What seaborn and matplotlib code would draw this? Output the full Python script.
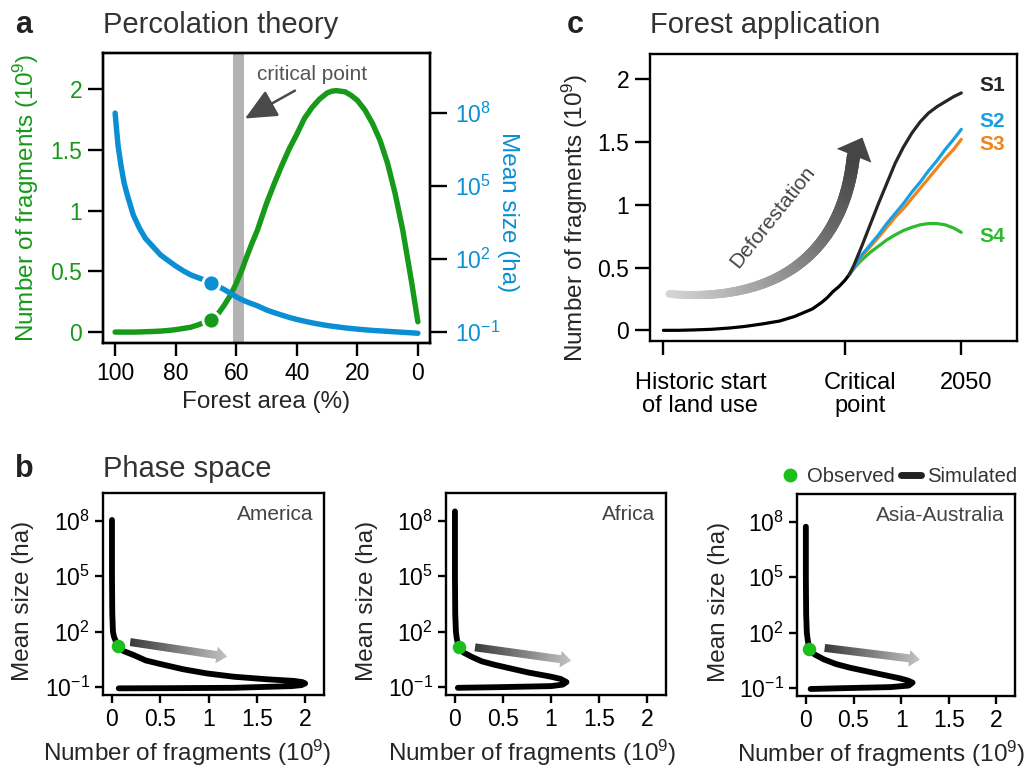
import numpy as np
import pandas as pd
import matplotlib
matplotlib.use("Agg")
import matplotlib.pyplot as plt
import seaborn as sns
from matplotlib.collections import LineCollection
from matplotlib.patches import Polygon
from matplotlib.lines import Line2D
from matplotlib import ticker, transforms, colors as mcolors

# ---------------- data: panel a (percolation theory) ----------------
forest_area = [100, 99.5, 99, 98, 97, 96, 94, 92, 90, 87.5, 85, 82.5, 80, 77.5, 75, 72.5,
               70, 66, 64, 62, 60, 58, 57, 55, 53, 50, 47.5, 45, 42.5, 40, 37.5, 35, 32.5,
               30, 28.5, 27, 25.5, 24, 22, 20, 17.5, 15, 12.5, 10, 7.5, 5, 3.5, 2, 1, 0]
fragments_a = [0, 0, 0, 0, 0, 0, 0, 0.001, 0.003, 0.005, 0.008, 0.013, 0.02, 0.03, 0.04,
               0.06, 0.085, 0.15, 0.22, 0.30, 0.40, 0.52, 0.59, 0.72, 0.84, 1.06, 1.22,
               1.37, 1.51, 1.63, 1.76, 1.85, 1.92, 1.97, 1.985, 1.99, 1.985, 1.98, 1.95,
               1.91, 1.83, 1.72, 1.58, 1.39, 1.14, 0.84, 0.62, 0.40, 0.24, 0.085]
mean_size_a = [1.0e8, 2.0e7, 4.3e6, 6.3e5, 1.3e5, 4.4e4, 6.5e3, 1.9e3, 710, 324, 148,
               87, 52, 33, 22.4, 17, 13.2, 7.6, 5.6, 4.0, 2.8, 2.1, 1.85, 1.48, 1.2, 0.81,
               0.63, 0.50, 0.40, 0.33, 0.28, 0.24, 0.21, 0.186, 0.175, 0.166, 0.157, 0.148,
               0.14, 0.132, 0.124, 0.117, 0.112, 0.107, 0.102, 0.098, 0.095, 0.093, 0.091,
               0.089]
obs_forest = [68.3]
obs_fragments = [0.10]
obs_size = [10.7]
critical_band = [57.3, 60.9]

# ---------------- data: panel b (phase space) ----------------
regions = ["America", "Africa", "Asia-Australia"]
phase_frag = {
    "America": [0.0, 0.0, 0.003, 0.01, 0.02, 0.059, 0.12, 0.224, 0.35, 0.50, 0.74, 0.98,
                1.26, 1.60, 1.88, 1.97, 2.00, 1.96, 1.86, 1.26, 0.60, 0.07],
    "Africa": [0.0, 0.0, 0.003, 0.01, 0.02, 0.04, 0.09, 0.17, 0.28, 0.42, 0.76, 1.00, 1.10,
               1.16, 1.12, 1.00, 0.42, 0.03],
    "Asia-Australia": [0.0, 0.0, 0.003, 0.01, 0.02, 0.035, 0.09, 0.19, 0.32, 0.47, 0.75,
                       0.99, 1.07, 1.12, 1.08, 0.89, 0.37, 0.05],
}
phase_size = {
    "America": [1.1e8, 1e5, 1e3, 100, 55, 17, 9, 5.5, 2.8, 1.8, 0.93, 0.56, 0.37, 0.27,
                0.22, 0.19, 0.16, 0.13, 0.115, 0.093, 0.089, 0.087],
    "Africa": [3.2e8, 1e5, 1e3, 100, 40, 14.5, 7.5, 4.5, 2.5, 1.6, 0.63, 0.37, 0.28, 0.19,
               0.138, 0.115, 0.10, 0.093],
    "Asia-Australia": [5.4e7, 1e5, 1e3, 100, 40, 13.8, 6.8, 3.6, 2.0, 1.26, 0.62, 0.34,
                       0.26, 0.20, 0.14, 0.115, 0.10, 0.091],
}
phase_obs_frag = {"America": 0.059, "Africa": 0.04, "Asia-Australia": 0.035}
phase_obs_size = {"America": 17, "Africa": 14.5, "Asia-Australia": 13.8}

# ---------------- data: panel c (forest application) ----------------
c_tick_pos = [0, 61, 100]
c_tick_labels = ["Historic start\nof land use", "Critical\npoint", "2050"]
base_t = [0, 5, 10, 16, 22, 27, 33, 39, 44, 47, 50, 53, 55, 57, 59, 61, 62.4]
base_frag = [0, 0, 0.003, 0.008, 0.018, 0.03, 0.05, 0.074, 0.11, 0.14, 0.17, 0.22, 0.26,
             0.31, 0.35, 0.40, 0.445]
scen_t = [62.4, 63.8, 66.6, 69.4, 72.2, 75.0, 77.8, 80.6, 83.4, 86.2, 89.0, 91.8, 94.6,
          97.4, 100]
scen_frag = {
    "S1": [0.445, 0.51, 0.67, 0.84, 1.01, 1.17, 1.33, 1.46, 1.57, 1.66, 1.73, 1.78, 1.82,
           1.86, 1.89],
    "S2": [0.445, 0.49, 0.60, 0.68, 0.76, 0.85, 0.93, 1.01, 1.10, 1.18, 1.27, 1.35, 1.44,
           1.52, 1.60],
    "S3": [0.445, 0.485, 0.59, 0.665, 0.74, 0.82, 0.90, 0.97, 1.05, 1.13, 1.21, 1.29, 1.37,
           1.44, 1.52],
    "S4": [0.445, 0.49, 0.56, 0.62, 0.67, 0.72, 0.76, 0.795, 0.82, 0.84, 0.85, 0.85, 0.84,
           0.815, 0.78],
}
scen_colors = {"S1": "#262626", "S2": "#1a9fe0", "S3": "#f0841e", "S4": "#2dbb2d"}
scen_label_y = {"S1": 1.95, "S2": 1.66, "S3": 1.48, "S4": 0.745}

# ---------------- style ----------------
sns.set_theme(style="ticks")
plt.rcParams["font.family"] = ["Liberation Sans", "DejaVu Sans"]
plt.rcParams["mathtext.default"] = "regular"
plt.rcParams["axes.linewidth"] = 1.7
plt.rcParams["axes.edgecolor"] = "black"
plt.rcParams["xtick.color"] = "black"
plt.rcParams["ytick.color"] = "black"

GREEN = "#17991a"
BLUE = "#0a8fd4"
DOT_GREEN = "#1bbf1b"
TXT = "#333333"

FIG_W, FIG_H = 1033, 772
fig = plt.figure(figsize=(FIG_W / 100, FIG_H / 100), dpi=100)

num_fmt = ticker.FuncFormatter(lambda v, p: f"{v:g}")


def px_axes(l, t, r, b):
    return [l / FIG_W, 1 - b / FIG_H, (r - l) / FIG_W, (b - t) / FIG_H]


# ====================== panel a ======================
axA = fig.add_axes(px_axes(103, 53, 430, 343))
dfa = pd.DataFrame({"forest": forest_area, "frag": fragments_a, "size": mean_size_a})
axA.axvspan(critical_band[0], critical_band[1], color="#b3b3b3", lw=0, zorder=0)
sns.lineplot(data=dfa, x="forest", y="frag", ax=axA, color=GREEN, lw=3.9,
             sort=False, estimator=None, zorder=2)
sns.scatterplot(x=obs_forest, y=obs_fragments, ax=axA, color=GREEN, s=150,
                edgecolor="white", linewidth=2, zorder=3)
axA.set_xlim(104, -4)
axA.set_ylim(-0.09, 2.30)
axA.set_xticks([100, 80, 60, 40, 20, 0])
axA.set_yticks([0, 0.5, 1, 1.5, 2])
axA.yaxis.set_major_formatter(num_fmt)
axA.tick_params(axis="y", labelcolor=GREEN, length=11, width=1.7, labelsize=16.5, pad=4)
axA.tick_params(axis="x", length=9, width=1.7, labelsize=16.5, pad=5)
axA.set_xlabel("Forest area (%)", fontsize=17.5, labelpad=4)
axA.set_ylabel("Number of fragments (10$^{9}$)", fontsize=17.5, color=GREEN, labelpad=7)

axA.text(35, 2.12, "critical point", ha="center", va="center", fontsize=15, color="#555555")
axA.annotate("", xy=(57.1, 1.76), xytext=(40.6, 1.99),
             arrowprops=dict(arrowstyle="-|>,head_length=1.3,head_width=0.6",
                             color="#4a4a4a", lw=1.8, mutation_scale=15,
                             shrinkA=0, shrinkB=0))

axA2 = axA.twinx()
axA2.set_yscale("log")
sns.lineplot(data=dfa, x="forest", y="size", ax=axA2, color=BLUE, lw=3.9,
             sort=False, estimator=None, zorder=2)
sns.scatterplot(x=obs_forest, y=obs_size, ax=axA2, color=BLUE, s=150,
                edgecolor="white", linewidth=2, zorder=3)
axA2.set_ylim(10 ** -1.45, 10 ** 10.47)
axA2.set_yticks([1e-1, 1e2, 1e5, 1e8])
axA2.yaxis.set_major_formatter(ticker.LogFormatterMathtext())
axA2.yaxis.set_minor_locator(ticker.NullLocator())
axA2.tick_params(axis="y", labelcolor=BLUE, length=12, width=1.7, labelsize=16.5, pad=6)
axA2.set_ylabel("Mean size (ha)", fontsize=17.5, color=BLUE, rotation=270,
                ha="center", va="center")
axA2.yaxis.set_label_coords(1.239, 0.45)
axA2.set_xlim(104, -4)

fig.text(15 / FIG_W, 1 - 33 / FIG_H, "a", fontsize=22, fontweight="bold", color="#222222")
fig.text(103 / FIG_W, 1 - 33 / FIG_H, "Percolation theory", fontsize=21, color=TXT)

# ====================== panel c ======================
axC = fig.add_axes(px_axes(650, 54, 1017, 341))
sns.lineplot(x=base_t, y=base_frag, ax=axC, color="black", lw=2.3, estimator=None, sort=False)
long_c = pd.DataFrame([(k, t, v) for k, vals in scen_frag.items() for t, v in zip(scen_t, vals)],
                      columns=["scenario", "t", "frag"])
for k in ["S4", "S3", "S2", "S1"]:
    sub = long_c[long_c.scenario == k]
    sns.lineplot(data=sub, x="t", y="frag", ax=axC, color=scen_colors[k], lw=2.3,
                 estimator=None, sort=False)
for k in scen_frag:
    axC.text(106, scen_label_y[k], k, color=scen_colors[k], fontsize=15, fontweight="bold",
             ha="left", va="center")
axC.set_xlim(-4.5, 118.7)
axC.set_ylim(-0.085, 2.2)
axC.set_yticks([0, 0.5, 1, 1.5, 2])
axC.yaxis.set_major_formatter(num_fmt)
axC.set_xticks(c_tick_pos)
axC.set_xticklabels(c_tick_labels, linespacing=1.1)
axC.set_xlabel("")
axC.tick_params(axis="y", length=11, width=1.7, labelsize=16.5, pad=4)
axC.tick_params(axis="x", length=10, width=1.7, labelsize=17, pad=12)
for lbl, dx in zip(axC.get_xticklabels(), [37, 15, 5]):
    lbl.set_transform(lbl.get_transform() + transforms.ScaledTranslation(dx / 100, 0, fig.dpi_scale_trans))
axC.set_ylabel("Number of fragments (10$^{9}$)", fontsize=17.5, ha="center", va="center")
axC.yaxis.set_label_coords(-0.204, 0.43)

# curved gradient "Deforestation" arrow (decoration)
P = np.array([[2, 0.29], [35, 0.22], [60, 0.55], [63.8, 1.39]])
u = np.linspace(0, 1, 160)[:, None]
bez = ((1 - u) ** 3) * P[0] + 3 * ((1 - u) ** 2) * u * P[1] + 3 * (1 - u) * u ** 2 * P[2] + u ** 3 * P[3]
segs = np.stack([bez[:-1], bez[1:]], axis=1)
cmapC = mcolors.LinearSegmentedColormap.from_list("g", ["#d6d6d6", "#454545"])
fr = np.linspace(0, 1, len(segs))
lcC = LineCollection(segs, colors=cmapC(fr), linewidths=5.5 + 4.0 * fr, capstyle="round",
                     transform=axC.transData, zorder=1)
axC.add_collection(lcC)
axC.add_patch(Polygon([[58.2, 1.445], [69.8, 1.335], [66.8, 1.535]], closed=True,
                      color="#454545", lw=0, zorder=1))
axC.text(36.6, 0.906, "Deforestation", rotation=51.5, rotation_mode="anchor", ha="center",
         va="center", fontsize=15, color="#444444")

fig.text(567 / FIG_W, 1 - 33 / FIG_H, "c", fontsize=22, fontweight="bold", color="#222222")
fig.text(650 / FIG_W, 1 - 33 / FIG_H, "Forest application", fontsize=21, color=TXT)


# ====================== panel b ======================
def grad_arrow(ax, p0, p1, c0, c1, width_px, head_len_px, head_hw_px):
    bb = ax.get_position()
    W, H = bb.width * FIG_W, bb.height * FIG_H
    P0 = np.array([p0[0] * W, p0[1] * H])
    P1 = np.array([p1[0] * W, p1[1] * H])
    d = P1 - P0
    uu = d / np.hypot(*d)
    nn = np.array([-uu[1], uu[0]])
    base = P1 - uu * head_len_px
    hw = width_px / 2
    poly = np.array([P0 + nn * hw, base + nn * hw, base + nn * head_hw_px, P1,
                     base - nn * head_hw_px, base - nn * hw, P0 - nn * hw]) / np.array([W, H])
    patch = Polygon(poly, closed=True, transform=ax.transAxes, facecolor="none", edgecolor="none")
    ax.add_patch(patch)
    cm = mcolors.LinearSegmentedColormap.from_list("g2", [c0, c1])
    grad = np.linspace(0, 1, 256).reshape(1, -1)
    x0, x1 = poly[:, 0].min(), poly[:, 0].max()
    y0, y1 = poly[:, 1].min(), poly[:, 1].max()
    xl, yl = ax.get_xlim(), ax.get_ylim()
    im = ax.imshow(grad, cmap=cm, extent=[x0, x1, y0, y1], transform=ax.transAxes,
                   aspect="auto", interpolation="bilinear", zorder=1)
    im.set_clip_path(patch)
    ax.set_xlim(xl)
    ax.set_ylim(yl)


b_boxes = {"America": (103, 493, 324, 695), "Africa": (446, 493, 666, 695),
           "Asia-Australia": (797, 494, 1015, 696)}
b_arrows = {"America": ((0.123, 0.262), (0.562, 0.19)),
            "Africa": ((0.132, 0.236), (0.569, 0.17)),
            "Asia-Australia": ((0.127, 0.238), (0.564, 0.18))}
b_xlabel_x = {"America": 0.383, "Africa": 0.39, "Asia-Australia": 0.385}
for reg in regions:
    l, t, r, b = b_boxes[reg]
    ax = fig.add_axes(px_axes(l, t, r, b))
    ax.set_yscale("log")
    dfp = pd.DataFrame({"frag": phase_frag[reg], "size": phase_size[reg]})
    sns.lineplot(data=dfp, x="frag", y="size", ax=ax, color="black", lw=4.2,
                 sort=False, estimator=None, zorder=2)
    sns.scatterplot(x=[phase_obs_frag[reg]], y=[phase_obs_size[reg]], ax=ax,
                    color=DOT_GREEN, s=95, linewidth=0, zorder=3)
    ax.set_xlim(-0.093, 2.195)
    ax.set_ylim(10 ** -1.42, 10 ** 9.5)
    ax.set_xticks([0, 0.5, 1, 1.5, 2])
    ax.xaxis.set_major_formatter(num_fmt)
    ax.set_yticks([1e-1, 1e2, 1e5, 1e8])
    ax.yaxis.set_major_formatter(ticker.LogFormatterMathtext())
    ax.yaxis.set_minor_locator(ticker.NullLocator())
    ax.tick_params(axis="both", length=5.5, width=1.7, labelsize=16.5, pad=4)
    ax.set_xlabel("Number of fragments (10$^{9}$)", fontsize=17.5, ha="center", va="center")
    ax.xaxis.set_label_coords(b_xlabel_x[reg], -0.285)
    ax.set_ylabel("Mean size (ha)", fontsize=17.5, ha="center", va="center")
    ax.yaxis.set_label_coords(-0.36, 0.465)
    ax.text(0.952, 0.892, reg, transform=ax.transAxes, ha="right", va="center",
            fontsize=15, color="#444444")
    a0, a1 = b_arrows[reg]
    grad_arrow(ax, a0, a1, "#3a3a3a", "#c4c4c4", 8, 10.7, 8.3)

fig.text(15 / FIG_W, 1 - 477 / FIG_H, "b", fontsize=22, fontweight="bold", color="#222222")
fig.text(103 / FIG_W, 1 - 477 / FIG_H, "Phase space", fontsize=21, color=TXT)

handles = [Line2D([], [], marker="o", ls="none", color=DOT_GREEN, markersize=10, markeredgewidth=0),
           Line2D([], [], color="#222222", lw=5)]
leg = fig.legend(handles, ["Observed", "Simulated"], loc="center right",
                 bbox_to_anchor=(1017 / FIG_W, 1 - 477 / FIG_H), ncol=2, frameon=False,
                 fontsize=14.6, handlelength=1.0, handletextpad=0.3, columnspacing=0.3,
                 borderaxespad=0, borderpad=0)
for tx in leg.get_texts():
    tx.set_color(TXT)

fig.savefig("out.png", dpi=100)
